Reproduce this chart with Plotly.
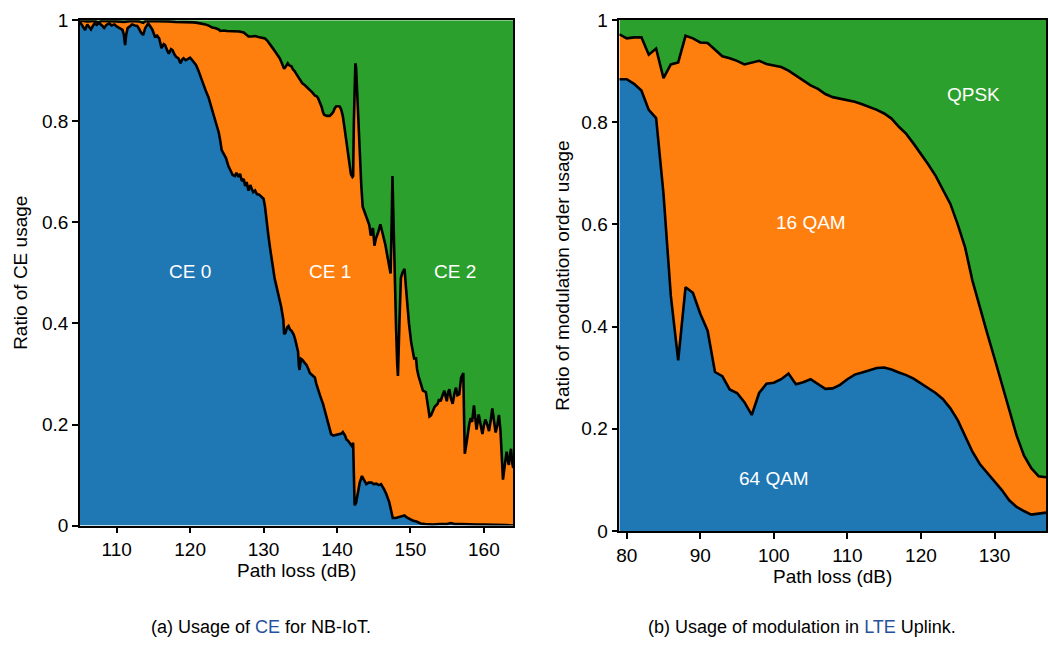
import plotly.graph_objects as go

# ---------------- (a) CE usage for NB-IoT ----------------
ce0_x = [105.0, 105.1, 105.4, 105.7, 106.0, 106.3, 106.5, 106.8, 107.0, 107.3, 107.6, 108.0, 108.3, 108.6,
         109.0, 109.3, 109.7, 110.0, 110.3, 110.6, 110.8, 111.0, 111.15, 111.3, 111.5, 111.8, 112.1, 112.5,
         112.8, 113.1, 113.3, 113.6, 113.9, 114.3, 114.6, 114.85, 115.2, 115.5, 115.8, 116.1, 116.4, 116.6,
         116.9, 117.1, 117.4, 117.6, 117.9, 118.1, 118.4, 118.7, 118.9, 119.1, 119.4, 119.6, 120.0, 120.3,
         120.5, 120.8, 121.1, 121.5, 121.9, 122.2, 122.5, 122.9, 123.2, 123.6, 123.9, 124.1, 124.3, 124.6,
         124.9, 125.2, 125.5, 125.8, 126.1, 126.3, 126.6, 126.8, 127.05, 127.3, 127.5, 127.7, 127.95, 128.2,
         128.4, 128.6, 128.85, 129.1, 129.4, 129.8, 130.0, 130.2, 130.4, 130.65, 130.9, 131.1, 131.3, 131.5,
         131.8, 132.1, 132.4, 132.7, 132.8, 133.0, 133.2, 133.4, 133.6, 133.8, 134.1, 134.3, 134.5, 134.7,
         134.8, 134.9, 135.1, 135.3, 135.6, 135.85, 136.1, 136.3, 136.6, 136.98, 137.2, 137.4, 137.7, 138.1,
         138.3, 138.6, 138.9, 139.2, 139.5, 139.8, 140.2, 140.6, 140.8, 141.1, 141.3, 141.5, 141.8, 142.0,
         142.2, 142.3, 142.4, 142.6, 142.8, 143.1, 143.4, 143.7, 144.0, 144.3, 144.7, 145.0, 145.35, 145.7,
         146.0, 146.4, 146.7, 147.1, 147.4, 147.6, 148.0, 148.3, 148.7, 149.2, 149.5, 149.9, 150.3, 150.8,
         151.4, 152.0, 153.0, 154.0, 155.0, 155.5, 156.0, 157.0, 158.0, 159.0, 160.0, 161.0, 162.0, 163.0,
         164.0]
ce0_v = [0.997, 0.995, 0.988, 0.981, 0.992, 0.986, 0.982, 0.990, 0.994, 0.991, 0.995, 0.990, 0.985, 0.991,
         0.994, 0.990, 0.992, 0.988, 0.985, 0.983, 0.981, 0.970, 0.951, 0.972, 0.985, 0.988, 0.992, 0.990,
         0.989, 0.982, 0.976, 0.971, 0.985, 0.994, 0.988, 0.982, 0.968, 0.970, 0.964, 0.945, 0.953, 0.951,
         0.940, 0.934, 0.943, 0.941, 0.932, 0.928, 0.925, 0.915, 0.922, 0.925, 0.921, 0.923, 0.926, 0.921,
         0.918, 0.912, 0.902, 0.886, 0.867, 0.858, 0.848, 0.828, 0.810, 0.792, 0.778, 0.762, 0.743, 0.735,
         0.727, 0.712, 0.701, 0.694, 0.692, 0.698, 0.690, 0.696, 0.682, 0.686, 0.672, 0.680, 0.663, 0.674,
         0.666, 0.660, 0.663, 0.656, 0.655, 0.650, 0.647, 0.631, 0.599, 0.575, 0.548, 0.525, 0.503, 0.490,
         0.471, 0.452, 0.433, 0.407, 0.379, 0.382, 0.392, 0.395, 0.388, 0.386, 0.378, 0.369, 0.358, 0.344,
         0.318, 0.308, 0.330, 0.328, 0.322, 0.318, 0.310, 0.302, 0.298, 0.293, 0.280, 0.270, 0.257, 0.241,
         0.230, 0.213, 0.196, 0.181, 0.178, 0.179, 0.180, 0.182, 0.185, 0.178, 0.170, 0.168, 0.162, 0.158,
         0.164, 0.120, 0.040, 0.045, 0.063, 0.085, 0.098, 0.090, 0.082, 0.085, 0.085, 0.082, 0.083, 0.080,
         0.082, 0.072, 0.063, 0.047, 0.030, 0.015, 0.015, 0.016, 0.018, 0.020, 0.016, 0.013, 0.010, 0.008,
         0.004, 0.003, 0.002, 0.003, 0.003, 0.005, 0.003, 0.003, 0.002, 0.002, 0.002, 0.002, 0.001, 0.001,
         0.000]

# cumulative share of CE 0 + CE 1
ce01_x = [105.0, 106.0, 107.0, 107.5, 108.0, 109.0, 110.0, 111.0, 112.0, 113.0, 113.6, 114.0, 115.0, 116.0,
          117.0, 118.0, 119.0, 120.0, 120.5, 121.0, 121.5, 122.1, 122.6, 123.0, 123.4, 123.9, 124.1, 124.6,
          125.0, 125.7, 126.1, 126.7, 127.3, 127.6, 127.95, 128.4, 128.85, 129.3, 129.8, 130.2, 130.5, 130.9,
          131.2, 131.6, 131.9, 132.2, 132.5, 132.8, 133.0, 133.3, 133.5, 133.8, 134.0, 134.2, 134.5, 134.8,
          135.1, 135.3, 135.6, 135.9, 136.3, 136.6, 137.0, 137.2, 137.4, 137.6, 137.9, 138.1, 138.25, 138.6,
          139.0, 139.3, 139.5, 139.7, 139.9, 140.2, 140.4, 140.6, 140.8, 141.0, 141.3, 141.6, 141.9, 142.1,
          142.2, 142.3, 142.4, 142.5, 142.6, 142.8, 143.1, 143.3, 143.5, 143.8, 144.0, 144.2, 144.4, 144.6,
          144.9, 145.1, 145.3, 145.6, 145.9, 146.1, 146.4, 146.6, 146.8, 147.15, 147.3, 147.45, 147.55, 147.7,
          147.9, 148.05, 148.2, 148.3, 148.5, 148.7, 148.9, 149.2, 149.4, 149.6, 149.8, 150.1, 150.5, 150.76,
          150.9, 151.1, 151.4, 151.7, 152.1, 152.4, 152.6, 152.8, 153.0, 153.3, 153.7, 153.9, 154.1, 154.4,
          154.6, 154.8, 154.95, 155.1, 155.3, 155.5, 155.75, 156.0, 156.2, 156.4, 156.65, 156.9, 157.2, 157.3,
          157.4, 157.6, 157.8, 158.0, 158.2, 158.4, 158.65, 158.85, 159.0, 159.15, 159.3, 159.55, 159.8, 160.0,
          160.2, 160.45, 160.7, 160.95, 161.15, 161.4, 161.6, 161.85, 162.05, 162.25, 162.4, 162.6, 162.85,
          163.1, 163.25, 163.4, 163.55, 163.7, 163.85, 164.0]
ce01_v = [1.000, 0.998, 0.999, 0.996, 0.999, 0.999, 0.998, 0.997, 0.999, 0.998, 0.995, 0.999, 0.999, 0.998,
          0.998, 0.997, 0.997, 0.996, 0.996, 0.995, 0.994, 0.992, 0.989, 0.986, 0.985, 0.982, 0.979, 0.980,
          0.979, 0.979, 0.978, 0.978, 0.976, 0.972, 0.968, 0.968, 0.969, 0.967, 0.966, 0.964, 0.960, 0.953,
          0.946, 0.938, 0.932, 0.925, 0.915, 0.904, 0.908, 0.915, 0.911, 0.909, 0.903, 0.900, 0.893, 0.886,
          0.877, 0.875, 0.872, 0.868, 0.862, 0.858, 0.851, 0.850, 0.847, 0.840, 0.829, 0.818, 0.813, 0.811,
          0.811, 0.815, 0.819, 0.826, 0.830, 0.830, 0.829, 0.822, 0.810, 0.790, 0.759, 0.725, 0.695, 0.690,
          0.692, 0.800, 0.912, 0.915, 0.907, 0.830, 0.733, 0.675, 0.631, 0.618, 0.610, 0.605, 0.595, 0.574,
          0.589, 0.554, 0.568, 0.580, 0.596, 0.585, 0.570, 0.555, 0.538, 0.506, 0.499, 0.600, 0.692, 0.600,
          0.450, 0.388, 0.320, 0.296, 0.400, 0.490, 0.500, 0.508, 0.470, 0.433, 0.400, 0.363, 0.331, 0.331,
          0.310, 0.296, 0.282, 0.267, 0.264, 0.240, 0.216, 0.218, 0.225, 0.235, 0.241, 0.250, 0.246, 0.258,
          0.267, 0.255, 0.246, 0.262, 0.270, 0.252, 0.241, 0.262, 0.273, 0.258, 0.260, 0.293, 0.302, 0.220,
          0.142, 0.160, 0.184, 0.200, 0.213, 0.205, 0.238, 0.215, 0.190, 0.205, 0.220, 0.200, 0.181, 0.198,
          0.210, 0.200, 0.187, 0.210, 0.232, 0.205, 0.184, 0.200, 0.219, 0.190, 0.139, 0.091, 0.120,
          0.146, 0.130, 0.120, 0.140, 0.152, 0.125, 0.114]

ce_labels = ["CE 0", "CE 1", "CE 2"]
ce_label_x = [120.0, 139.0, 156.0]
ce_label_v = [0.503, 0.503, 0.503]

# ---------------- (b) modulation usage in LTE uplink ----------------
mod_x = [79, 80, 81, 82, 83, 84, 85, 86, 87, 88, 89, 90, 91, 92, 93, 94, 95, 96, 97, 98, 99, 100,
         101, 102, 103, 104, 105, 106, 107, 108, 109, 110, 111, 112, 113, 114, 115, 116, 117, 118,
         119, 120, 121, 122, 123, 124, 125, 126, 127, 128, 129, 130, 131, 132, 133, 134, 135, 136, 137]
qam64_v = [0.884, 0.884, 0.875, 0.862, 0.824, 0.808, 0.660, 0.460, 0.334, 0.477, 0.466, 0.425, 0.392,
           0.311, 0.303, 0.277, 0.270, 0.252, 0.227, 0.270, 0.288, 0.290, 0.297, 0.308, 0.287, 0.291,
           0.297, 0.288, 0.278, 0.279, 0.286, 0.297, 0.306, 0.310, 0.315, 0.319, 0.320, 0.316, 0.310,
           0.305, 0.298, 0.289, 0.280, 0.270, 0.258, 0.240, 0.217, 0.186, 0.155, 0.131, 0.114, 0.097,
           0.080, 0.060, 0.047, 0.039, 0.032, 0.034, 0.036]
# cumulative share of 64 QAM + 16 QAM
qam16_cum_v = [0.972, 0.964, 0.966, 0.966, 0.932, 0.944, 0.886, 0.913, 0.917, 0.969, 0.964, 0.956, 0.955,
               0.942, 0.929, 0.925, 0.920, 0.913, 0.916, 0.920, 0.914, 0.911, 0.908, 0.901, 0.891, 0.882,
               0.872, 0.865, 0.855, 0.849, 0.846, 0.844, 0.840, 0.835, 0.830, 0.824, 0.817, 0.807, 0.791,
               0.777, 0.758, 0.738, 0.717, 0.695, 0.668, 0.640, 0.600, 0.555, 0.490, 0.437, 0.387, 0.338,
               0.289, 0.237, 0.187, 0.148, 0.123, 0.107, 0.105]

mod_labels = ["64 QAM", "16 QAM", "QPSK"]
mod_label_x = [100.0, 105.1, 127.2]
mod_label_v = [0.103, 0.603, 0.854]

BLUE, ORANGE, GREEN = "#1f77b4", "#ff7f0e", "#2ca02c"
FONT = "Liberation Sans, Arial, sans-serif"
W, H = 1048, 652

fig = go.Figure()


def add_stack(x_lo, y_lo, x_hi, y_hi, xr, xa, ya):
    # filled bands first, boundary lines on top
    fig.add_trace(go.Scatter(x=x_lo, y=y_lo, mode="lines", fill="tozeroy", fillcolor=BLUE,
                             line=dict(width=0), xaxis=xa, yaxis=ya, hoverinfo="skip"))
    fig.add_trace(go.Scatter(x=x_hi, y=y_hi, mode="lines", fill="tonexty", fillcolor=ORANGE,
                             line=dict(width=0), xaxis=xa, yaxis=ya, hoverinfo="skip"))
    fig.add_trace(go.Scatter(x=xr, y=[1, 1], mode="lines", fill="tonexty", fillcolor=GREEN,
                             line=dict(width=0), xaxis=xa, yaxis=ya, hoverinfo="skip"))
    for xs, ys in ((x_lo, y_lo), (x_hi, y_hi)):
        fig.add_trace(go.Scatter(x=xs, y=ys, mode="lines", line=dict(color="black", width=2.6),
                                 xaxis=xa, yaxis=ya, hoverinfo="skip"))


add_stack(ce0_x, ce0_v, ce01_x, ce01_v, [105, 164], "x", "y")
add_stack(mod_x, qam64_v, mod_x, qam16_cum_v, [79, 137], "x2", "y2")

axis_common = dict(showgrid=False, zeroline=False, showline=True, linecolor="black", linewidth=1.5,
                   mirror=True, ticks="outside", ticklen=6, tickwidth=1.5, tickcolor="black",
                   tickfont=dict(family=FONT, size=19, color="black"))
yticks = [0, 0.2, 0.4, 0.6, 0.8, 1]
yticktext = ["0", "0.2", "0.4", "0.6", "0.8", "1"]

fig.update_layout(
    width=W, height=H, margin=dict(l=0, r=0, t=0, b=0),
    paper_bgcolor="white", plot_bgcolor="white", showlegend=False,
    xaxis=dict(domain=[77.3 / W, 512.7 / W], range=[105, 164], anchor="y",
               tickvals=[110, 120, 130, 140, 150, 160], **axis_common),
    yaxis=dict(domain=[(H - 532.7) / H, (H - 10.7) / H], range=[0, 1], anchor="x",
               tickvals=yticks, ticktext=yticktext, **axis_common),
    xaxis2=dict(domain=[619.3 / W, 1.0], range=[79, 137], anchor="y2",
                tickvals=[80, 90, 100, 110, 120, 130], **axis_common),
    yaxis2=dict(domain=[(H - 538.3) / H, (H - 10.3) / H], range=[0, 1], anchor="x2",
                tickvals=yticks, ticktext=yticktext, **axis_common),
)

ann = []
for t, x, v in zip(ce_labels, ce_label_x, ce_label_v):
    ann.append(dict(text=t, x=x, y=v, xref="x", yref="y", showarrow=False,
                    font=dict(family=FONT, size=19, color="white")))
for t, x, v in zip(mod_labels, mod_label_x, mod_label_v):
    ann.append(dict(text=t, x=x, y=v, xref="x2", yref="y2", showarrow=False,
                    font=dict(family=FONT, size=19, color="white")))


def px_text(text, x, y, size=19, angle=0, family=FONT):
    return dict(text=text, x=x / W, y=1 - y / H, xref="paper", yref="paper", showarrow=False,
                xanchor="center", yanchor="middle", textangle=angle,
                font=dict(family=family, size=size, color="black"))


ann.append(px_text("Ratio of CE usage", 18, 271.7, angle=-90))
ann.append(px_text("Path loss (dB)", 295, 579))
ann.append(px_text("Ratio of modulation order usage", 562, 274.3, angle=-90))
ann.append(px_text("Path loss (dB)", 833.6, 585))

LINK = "#24519b"
ann.append(px_text("(a) Usage of <span style='color:%s'>CE</span> for NB-IoT." % LINK, 259, 638, size=18))
ann.append(px_text("(b) Usage of modulation in <span style='color:%s'>LTE</span> Uplink." % LINK, 803, 638,
                   size=18))

fig.update_layout(annotations=ann)
fig.write_html("out.html")
